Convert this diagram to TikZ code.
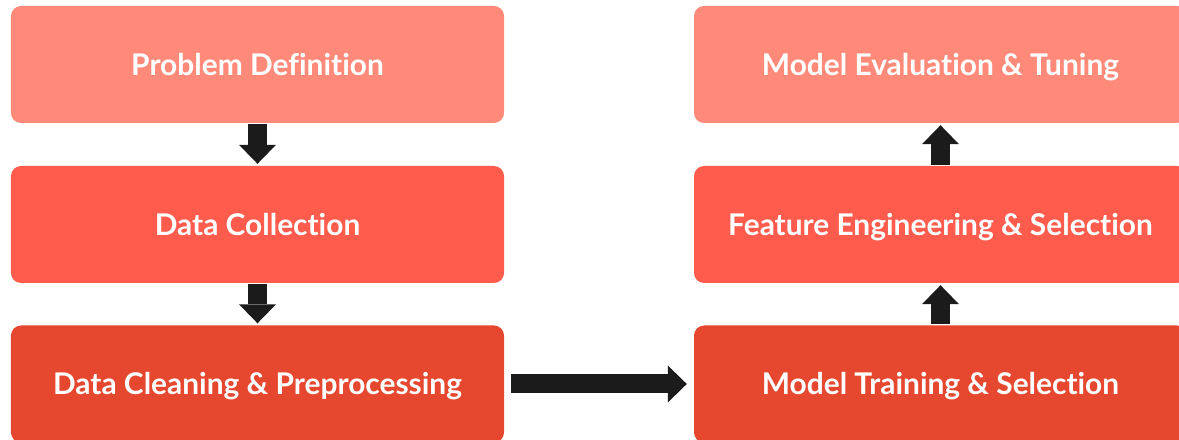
\documentclass[tikz,border=0pt]{standalone}
\usepackage{fontspec}
\setmainfont{Lato}[Ligatures=NoCommon]
\usetikzlibrary{arrows.meta}
\definecolor{c1}{HTML}{FF8A7A}
\definecolor{c2}{HTML}{FF5C4D}
\definecolor{c3}{HTML}{E6472F}
\definecolor{arr}{HTML}{1B1B1B}
\tikzset{
  stage/.style={rounded corners=10bp, minimum width=493bp, minimum height=117bp,
    inner sep=0pt, text=white, text height=21.5bp, text depth=0bp,
    font=\fontsize{30}{34}\selectfont\bfseries},
  flow/.style={draw=arr, line width=19bp,
    -{Triangle[length=19bp 0 0, width=37bp 0 0, line width=0pt 0 0, fill=arr]}},
}
\begin{document}
\begin{tikzpicture}[x=1bp,y=-1bp]
\useasboundingbox (0,0) rectangle (1179,440);
\clip (0,0) rectangle (1179,440);
\node[stage, fill=c1] (pd) at (257.5,64.5) {Problem Definition};
\node[stage, fill=c2] (dc) at (257.5,224.5) {Data Collection};
\node[stage, fill=c3] (dp) at (257.5,384) {Data Cleaning \& Preprocessing};
\node[stage, fill=c3] (mt) at (940.5,384) {Model Training \& Selection};
\node[stage, fill=c2] (fe) at (940.5,224.5) {Feature Engineering \& Selection};
\node[stage, fill=c1] (me) at (940.5,64.5) {Model Evaluation \& Tuning};
\draw[flow, shorten <=1bp, shorten >=2bp] (pd.south) -- (dc.north);
\draw[flow, shorten <=1bp, shorten >=2bp] (dc.south) -- (dp.north);
\draw[flow, shorten <=7bp, shorten >=7bp] (dp.east) -- (mt.west);
\draw[flow, shorten <=1bp, shorten >=2bp] (mt.north) -- (fe.south);
\draw[flow, shorten <=1bp, shorten >=2bp] (fe.north) -- (me.south);
\end{tikzpicture}
\end{document}
